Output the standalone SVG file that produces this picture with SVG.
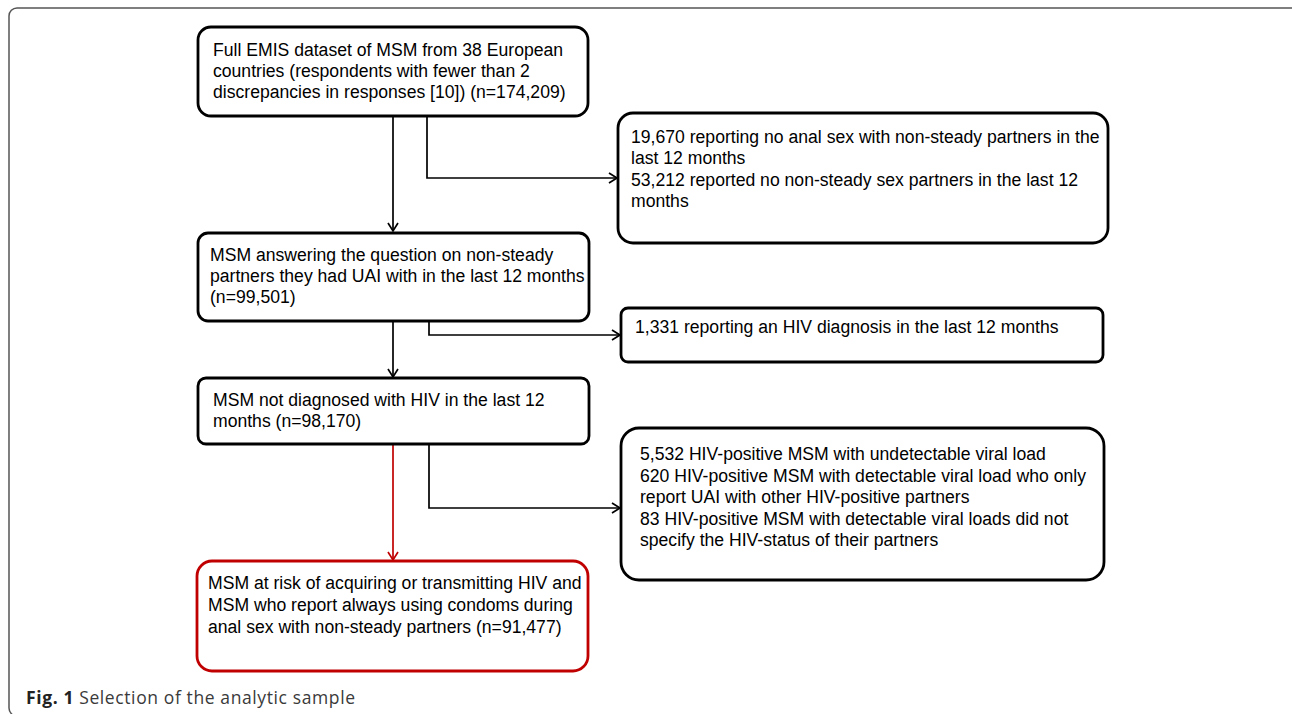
<svg xmlns="http://www.w3.org/2000/svg" width="1292" height="714" viewBox="0 0 1292 714">
<style>
.box{fill:#fff;stroke:#000;stroke-width:2.8}
.red{fill:#fff;stroke:#c00000;stroke-width:2.8}
.t{font-family:"Liberation Sans",Arial,sans-serif;font-size:17.6px;fill:#000}
.c{fill:none;stroke:#000;stroke-width:1.7}
.cr{fill:none;stroke:#c00000;stroke-width:1.7}
.cap{font-family:"Open Sans","Noto Sans",sans-serif;font-size:17.5px;fill:#3a3a3a}
</style>
<defs>
<marker id="ah" markerUnits="userSpaceOnUse" markerWidth="12" markerHeight="12" refX="9" refY="6" orient="auto">
<path d="M1,1 L9,6 L1,11" fill="none" stroke="#000" stroke-width="1.7"/>
</marker>
<marker id="ahr" markerUnits="userSpaceOnUse" markerWidth="12" markerHeight="12" refX="9" refY="6" orient="auto">
<path d="M1,1 L9,6 L1,11" fill="none" stroke="#c00000" stroke-width="1.7"/>
</marker>
</defs>
<rect x="9" y="8" width="1290" height="708" rx="8" fill="none" stroke="#555" stroke-width="1.5"/>
<g id="connectors">
<path class="c" d="M393,117 V231" marker-end="url(#ah)"/>
<path class="c" d="M427,117 V178 H617" marker-end="url(#ah)"/>
<path class="c" d="M393,322 V377" marker-end="url(#ah)"/>
<path class="c" d="M429,322 V335 H620" marker-end="url(#ah)"/>
<path class="cr" d="M393,445 V560" marker-end="url(#ahr)"/>
<path class="c" d="M429,445 V508 H620" marker-end="url(#ah)"/>
</g>
<g id="n1">
<rect class="box" x="198" y="27" width="390" height="89" rx="13"/>
<text class="t" x="213" y="56">Full EMIS dataset of MSM from 38 European</text>
<text class="t" x="213" y="77">countries (respondents with fewer than 2</text>
<text class="t" x="213" y="98">discrepancies in responses [10]) (n=174,209)</text>
</g>
<g id="r1">
<rect class="box" x="618" y="113" width="490" height="130" rx="15"/>
<text class="t" x="631" y="143">19,670 reporting no anal sex with non-steady partners in the</text>
<text class="t" x="631" y="164">last 12 months</text>
<text class="t" x="631" y="186">53,212 reported no non-steady sex partners in the last 12</text>
<text class="t" x="631" y="207">months</text>
</g>
<g id="n2">
<rect class="box" x="198" y="233" width="391" height="88" rx="10"/>
<text class="t" x="210" y="261">MSM answering the question on non-steady</text>
<text class="t" x="210" y="282">partners they had UAI with in the last 12 months</text>
<text class="t" x="210" y="303">(n=99,501)</text>
</g>
<g id="r2">
<rect class="box" x="621" y="308" width="482" height="54" rx="7"/>
<text class="t" x="635" y="333">1,331 reporting an HIV diagnosis in the last 12 months</text>
</g>
<g id="n3">
<rect class="box" x="198" y="378" width="391" height="66" rx="8"/>
<text class="t" x="213" y="406">MSM not diagnosed with HIV in the last 12</text>
<text class="t" x="213" y="427">months (n=98,170)</text>
</g>
<g id="r3">
<rect class="box" x="621" y="428" width="483" height="152" rx="18"/>
<text class="t" x="640" y="460">5,532 HIV-positive MSM with undetectable viral load</text>
<text class="t" x="640" y="481.5">620 HIV-positive MSM with detectable viral load who only</text>
<text class="t" x="640" y="503">report UAI with other HIV-positive partners</text>
<text class="t" x="640" y="524.5">83 HIV-positive MSM with detectable viral loads did not</text>
<text class="t" x="640" y="546">specify the HIV-status of their partners</text>
</g>
<g id="n4">
<rect class="red" x="197" y="561" width="391" height="110" rx="15"/>
<text class="t" x="208" y="589">MSM at risk of acquiring or transmitting HIV and</text>
<text class="t" x="208" y="611">MSM who report always using condoms during</text>
<text class="t" x="208" y="633">anal sex with non-steady partners (n=91,477)</text>
</g>
<text class="cap" x="26" y="704" textLength="329" lengthAdjust="spacing"><tspan font-weight="bold" fill="#222">Fig. 1</tspan> Selection of the analytic sample</text>
</svg>
